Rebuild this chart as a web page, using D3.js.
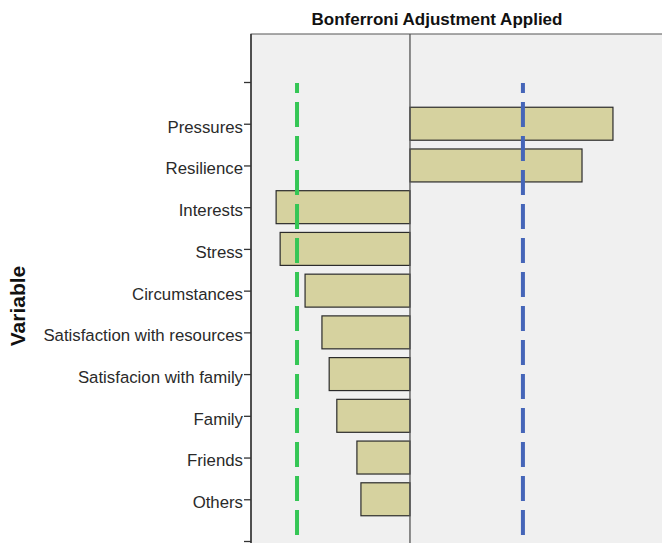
<!DOCTYPE html>
<html>
<head>
<meta charset="utf-8">
<script src="https://cdn.jsdelivr.net/npm/d3@7"></script>
<style>
  body { margin: 0; background: #fff; }
  text { font-family: "Liberation Sans", Arial, sans-serif; }
</style>
</head>
<body>
<div id="chart"></div>
<script>
// categories top to bottom, plus the unlabeled end ticks
const categories = ["Pressures", "Resilience", "Interests", "Stress", "Circumstances",
  "Satisfaction with resources", "Satisfacion with family", "Family", "Friends", "Others"];
const values = [5.05, 4.28, -3.33, -3.23, -2.61, -2.19, -2.01, -1.82, -1.32, -1.22];
// Bonferroni critical values (lower / upper)
const critLow = -2.81;
const critHigh = 2.81;

const width = 662, height = 543;
const panel = {left: 251, top: 34, right: 662, bottom: 543};

const svg = d3.select("#chart")
  .append("svg")
  .attr("width", width)
  .attr("height", height);

const slots = ["_top"].concat(categories, ["_bottom"]);

const y = d3.scalePoint()
  .domain(slots)
  .range([82, 541]);

const x = d3.scaleLinear()
  .domain([-3.955, 6.27])
  .range([panel.left, panel.right]);

// panel
svg.append("rect")
  .attr("x", panel.left)
  .attr("y", panel.top)
  .attr("width", 440)
  .attr("height", 540)
  .attr("fill", "#f0f0f0")
  .attr("stroke", "#555")
  .attr("stroke-width", 1);

// bars
const barH = y.step() * 0.79;
svg.selectAll("rect.bar")
  .data(categories)
  .enter()
  .append("rect")
  .attr("class", "bar")
  .attr("x", function(d, i) { return x(Math.min(0, values[i])); })
  .attr("y", function(d) { return y(d) - barH / 2; })
  .attr("width", function(d, i) { return Math.abs(x(values[i]) - x(0)); })
  .attr("height", barH)
  .attr("fill", "#d6d29f")
  .attr("stroke", "#2b2b2b")
  .attr("stroke-width", 1.2);

// zero line
svg.append("line")
  .attr("x1", x(0)).attr("x2", x(0))
  .attr("y1", panel.top).attr("y2", panel.bottom)
  .attr("stroke", "#555")
  .attr("stroke-width", 1.3);

// critical value lines
[[critLow, "#35c655"], [critHigh, "#4565b8"]].forEach(function(c) {
  svg.append("line")
    .attr("x1", x(c[0])).attr("x2", x(c[0]))
    .attr("y1", 83).attr("y2", panel.bottom)
    .attr("stroke", c[1])
    .attr("stroke-width", 4)
    .attr("stroke-dasharray", "25,9")
    .attr("stroke-dashoffset", 15);
});

// y axis
const yAxis = svg.append("g")
  .attr("transform", `translate(${panel.left}, 0)`)
  .call(d3.axisLeft(y)
    .tickSize(7)
    .tickPadding(1)
    .tickFormat(function(d) { return d.charAt(0) === "_" ? "" : d; }));

yAxis.select(".domain").remove();
yAxis.selectAll(".tick line").attr("stroke", "#333").attr("stroke-width", 1.3);
yAxis.selectAll(".tick text")
  .attr("fill", "#2a2a2a")
  .style("font-family", "'Liberation Sans', Arial, sans-serif")
  .style("font-size", "16.8px")
  .attr("dy", "0.5em");

// left axis line
svg.append("line")
  .attr("x1", panel.left).attr("x2", panel.left)
  .attr("y1", panel.top).attr("y2", panel.bottom)
  .attr("stroke", "#333")
  .attr("stroke-width", 1.5);

// title
svg.append("text")
  .attr("x", 437)
  .attr("y", 25)
  .attr("text-anchor", "middle")
  .attr("fill", "#111")
  .style("font-size", "17px")
  .style("font-weight", "bold")
  .text("Bonferroni Adjustment Applied");

// y axis title
svg.append("text")
  .attr("transform", "translate(25, 306) rotate(-90)")
  .attr("text-anchor", "middle")
  .attr("fill", "#111")
  .style("font-size", "21px")
  .style("font-weight", "bold")
  .text("Variable");
</script>
</body>
</html>
